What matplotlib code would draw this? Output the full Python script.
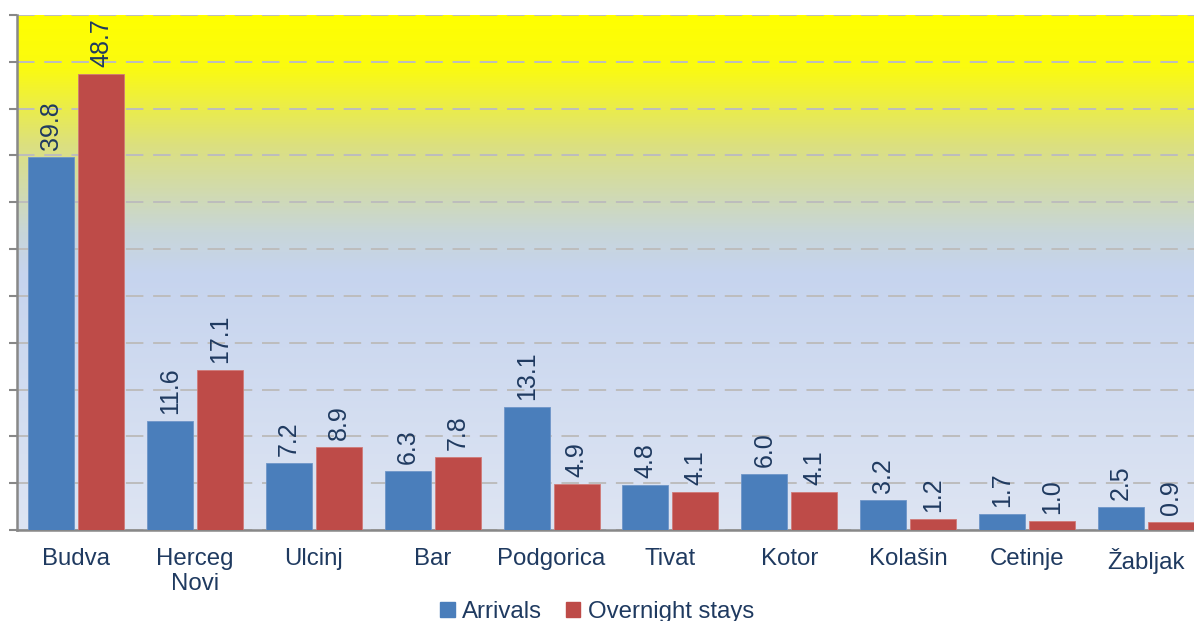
import numpy as np
import matplotlib
matplotlib.use("Agg")
import matplotlib.pyplot as plt
from matplotlib.colors import LinearSegmentedColormap
from matplotlib.patches import Patch

plt.rcParams['font.family'] = ['Liberation Sans', 'DejaVu Sans']

# data
cities = ['Budva', 'Herceg\nNovi', 'Ulcinj', 'Bar', 'Podgorica', 'Tivat',
          'Kotor', 'Kolašin', 'Cetinje', 'Žabljak']
arrivals = [39.8, 11.6, 7.2, 6.3, 13.1, 4.8, 6.0, 3.2, 1.7, 2.5]
overnight = [48.7, 17.1, 8.9, 7.8, 4.9, 4.1, 4.1, 1.2, 1.0, 0.9]

blue = '#4A7EBB'
red = '#BE4B48'
navy = '#1F3A60'

fig = plt.figure(figsize=(11.94, 6.21), dpi=100)
# plot runs past the right edge like the original crop
ax = fig.add_axes([17 / 1194, 1 - 530 / 621, 1188 / 1194, 515 / 621])

# background gradient, yellow at top to pale blue
cmap = LinearSegmentedColormap.from_list('bg', [
    (0.0, '#DEE5F3'), (0.5, '#C6D4EE'), (0.58, '#C8D6D8'),
    (0.75, '#DCE07E'), (0.9, '#FBFB10'), (1.0, '#FFFF00')])
grad = np.linspace(0, 1, 256).reshape(-1, 1)
ax.imshow(grad, cmap=cmap, aspect='auto', origin='lower',
          extent=[0, 1, 0, 1], transform=ax.transAxes, zorder=0)

x = np.arange(len(cities))
w = 0.387
off = 0.21
b1 = ax.bar(x - off, arrivals, w, color=blue, edgecolor='#6E95C8', linewidth=0.6, zorder=3)
b2 = ax.bar(x + off, overnight, w, color=red, edgecolor='#D07A78', linewidth=0.6, zorder=3)

for bars, vals in ((b1, arrivals), (b2, overnight)):
    for r, v in zip(bars, vals):
        ax.annotate(f'{v:.1f}', (r.get_x() + r.get_width() / 2, v),
                    xytext=(0, 5), textcoords='offset points',
                    rotation=90, ha='center', va='bottom',
                    fontsize=18, color=navy, zorder=4)

ax.set_xlim(-0.5, len(cities) - 0.5)
ax.set_ylim(0, 55)
ax.set_yticks(np.arange(0, 56, 5))
ax.set_yticklabels([])
ax.yaxis.grid(True, linestyle=(0, (9, 5)), color='#BDBDBD', linewidth=1.4, zorder=1)
ax.set_axisbelow(True)

ax.set_xticks(x)
ax.set_xticklabels(cities, fontsize=17.3, color=navy, linespacing=1.2)
ax.tick_params(axis='x', length=0, pad=13)
ax.tick_params(axis='y', length=6, width=1.5, color='#888888', direction='out')

for s in ('top', 'right'):
    ax.spines[s].set_visible(False)
for s in ('left', 'bottom'):
    ax.spines[s].set_color('#888888')
    ax.spines[s].set_linewidth(1.8)

handles = [Patch(color=blue, label='Arrivals'), Patch(color=red, label='Overnight stays')]
fig.legend(handles=handles, loc='center', bbox_to_anchor=(597 / 1194, 1 - 612 / 621),
           ncol=2, frameon=False, fontsize=17.3, handlelength=0.6, handleheight=0.6,
           handletextpad=0.3, columnspacing=1.0, labelcolor=navy)

fig.savefig('out.png', dpi=100)
